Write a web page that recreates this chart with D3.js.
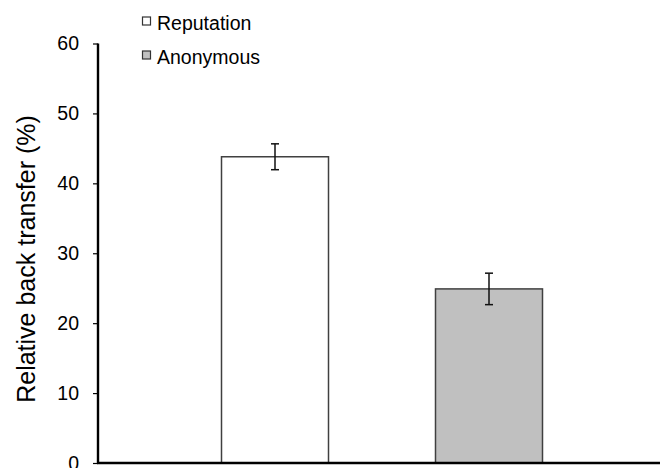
<!DOCTYPE html>
<html>
<head>
<meta charset="utf-8">
<script src="https://cdn.jsdelivr.net/npm/d3@7"></script>
<style>
  body { margin: 0; background: #fff; }
  svg { display: block; font-family: Arial, "Liberation Sans", sans-serif; }
</style>
</head>
<body>
<div id="container"></div>
<script>
/* CONSTANTS AND GLOBALS */
const width = 660,
  height = 468;

// data
const categories = ["Reputation", "Anonymous"];
const values = [43.8, 24.9];
const errors = [1.85, 2.25];
const fills = ["#ffffff", "#c0c0c0"];
const yTicks = [0, 10, 20, 30, 40, 50, 60];

const margin = { left: 98, top: 43.5, bottom: 463 };

const svg = d3.select("#container")
  .append("svg")
  .attr("width", width)
  .attr("height", height);

const yScale = d3.scaleLinear()
  .domain([0, 60])
  .range([margin.bottom, margin.top]);

const xScale = d3.scaleBand()
  .domain(categories)
  .range([168, 596])
  .paddingInner(0.5)
  .paddingOuter(0.25);

const colorScale = d3.scaleOrdinal()
  .domain(categories)
  .range(fills);

// bars
svg.selectAll("rect.bar")
  .data(categories)
  .join("rect")
  .attr("class", "bar")
  .attr("x", d => xScale(d))
  .attr("y", (d, i) => yScale(values[i]))
  .attr("width", xScale.bandwidth())
  .attr("height", (d, i) => yScale(0) - yScale(values[i]))
  .attr("fill", d => colorScale(d))
  .attr("stroke", "#404040")
  .attr("stroke-width", 1.5);

// error bars
const err = svg.selectAll("g.err")
  .data(categories)
  .join("g")
  .attr("class", "err")
  .attr("transform", d => `translate(${xScale(d) + xScale.bandwidth() / 2},0)`)
  .attr("stroke", "#111")
  .attr("stroke-width", 1.5);

err.append("line")
  .attr("y1", (d, i) => yScale(values[i] + errors[i]))
  .attr("y2", (d, i) => yScale(values[i] - errors[i]));
err.append("line")
  .attr("x1", -4).attr("x2", 4)
  .attr("y1", (d, i) => yScale(values[i] + errors[i]))
  .attr("y2", (d, i) => yScale(values[i] + errors[i]));
err.append("line")
  .attr("x1", -4).attr("x2", 4)
  .attr("y1", (d, i) => yScale(values[i] - errors[i]))
  .attr("y2", (d, i) => yScale(values[i] - errors[i]));

// y axis
const yAxis = d3.axisLeft(yScale)
  .tickValues(yTicks)
  .tickSize(5)
  .tickPadding(14);

const yAxisGroup = svg.append("g")
  .attr("class", "yAxis")
  .attr("transform", `translate(${margin.left},0)`)
  .call(yAxis);

yAxisGroup.select(".domain").remove();
yAxisGroup.selectAll(".tick line").attr("stroke", "#000").attr("stroke-width", 1.2);
yAxisGroup.selectAll(".tick text")
  .attr("fill", "#000")
  .style("font-size", "19.5px");

// axis lines (thick)
svg.append("line")
  .attr("x1", margin.left).attr("x2", margin.left)
  .attr("y1", yScale(60)).attr("y2", yScale(0) + 1)
  .attr("stroke", "#000").attr("stroke-width", 2.4);

svg.append("line")
  .attr("x1", margin.left - 1).attr("x2", width)
  .attr("y1", yScale(0)).attr("y2", yScale(0))
  .attr("stroke", "#000").attr("stroke-width", 2.4);

// y axis title
svg.append("text")
  .attr("transform", `translate(35,259) rotate(-90)`)
  .attr("text-anchor", "middle")
  .style("font-size", "25px")
  .attr("fill", "#000")
  .text("Relative back transfer (%)");

// legend
const legend = svg.selectAll("g.legend")
  .data(categories)
  .join("g")
  .attr("class", "legend")
  .attr("transform", (d, i) => `translate(142,${30 + i * 34})`);

legend.append("rect")
  .attr("x", 0.5)
  .attr("y", -13)
  .attr("width", 8)
  .attr("height", 8)
  .attr("fill", d => colorScale(d))
  .attr("stroke", "#333")
  .attr("stroke-width", 1.2);

legend.append("text")
  .attr("x", 15)
  .attr("y", 0)
  .style("font-size", "19.5px")
  .attr("fill", "#000")
  .text(d => d);
</script>
</body>
</html>
